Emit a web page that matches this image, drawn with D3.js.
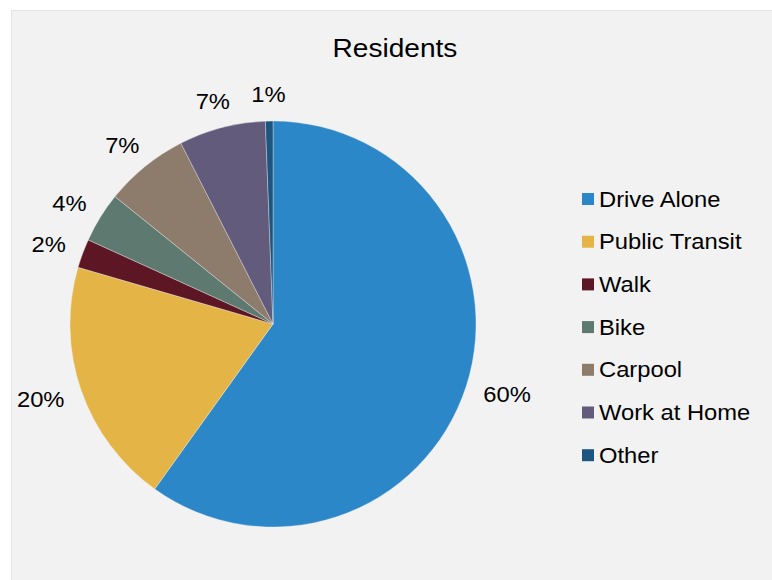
<!DOCTYPE html>
<html>
<head>
<meta charset="utf-8">
<script src="https://cdn.jsdelivr.net/npm/d3@7"></script>
<style>
  body { margin: 0; background: #fff; }
  svg text { font-family: "Liberation Sans", Arial, sans-serif; fill: #000; }
</style>
</head>
<body>
<div id="chart"></div>
<script>
var width = 772;
var height = 580;
var SX = 1.08; // text in the original is a touch wider than Liberation Sans

// data
var categories = ["Drive Alone", "Public Transit", "Walk", "Bike", "Carpool", "Work at Home", "Other"];
var shares = [59.9, 19.6, 2.3, 4.0, 6.7, 6.9, 0.6];
var labels = ["60%", "20%", "2%", "4%", "7%", "7%", "1%"];
var colors = ["#2b87c8", "#e4b446", "#5d1624", "#5e7a70", "#8d7c6c", "#625b7b", "#1e5580"];

var data = categories.map(function (c, i) {
  return { name: c, value: shares[i], label: labels[i], color: colors[i] };
});

var svg = d3.select("#chart")
  .append("svg")
  .attr("width", width)
  .attr("height", height);

// chart area background
svg.append("rect")
  .attr("x", 11.5).attr("y", 10.5)
  .attr("width", width - 11).attr("height", height - 10)
  .attr("fill", "#f2f2f2")
  .attr("stroke", "#e3e3e3");

svg.append("text")
  .attr("transform", "translate(395,57) scale(" + SX + ",1)")
  .attr("text-anchor", "middle")
  .style("font-size", "26px")
  .text("Residents");

var cx = 273, cy = 324, r = 203;

var pie = d3.pie().sort(null).value(function (d) { return d.value; });
var arc = d3.arc().innerRadius(0).outerRadius(r);
var arcs = pie(data);

var g = svg.append("g").attr("transform", "translate(" + cx + "," + cy + ")");

g.selectAll("path")
  .data(arcs)
  .enter()
  .append("path")
  .attr("d", arc)
  .attr("fill", function (d) { return d.data.color; })
  .attr("stroke", "#f2f2f2")
  .attr("stroke-opacity", 0.6)
  .attr("stroke-width", 0.6);

// outside end labels
var gap = 19, fs = 22;
g.selectAll("text.lbl")
  .data(arcs)
  .enter()
  .append("text")
  .attr("class", "lbl")
  .style("font-size", fs + "px")
  .attr("text-anchor", "middle")
  .attr("dominant-baseline", "central")
  .text(function (d) { return d.data.label; })
  .each(function (d) {
    var a = (d.startAngle + d.endAngle) / 2;
    var s = Math.sin(a), c = -Math.cos(a);
    var w = this.getComputedTextLength() * SX;
    var x = s * (r + gap) + s * w / 2;
    var y = c * (r + gap) + c * fs * 0.35;
    d3.select(this).attr("transform", "translate(" + x + "," + y + ") scale(" + SX + ",1)");
  });

// legend
var legend = svg.append("g").attr("transform", "translate(582,199)");
var rowH = 42.7;
var item = legend.selectAll("g")
  .data(data)
  .enter()
  .append("g")
  .attr("transform", function (d, i) { return "translate(0," + (i * rowH) + ")"; });

item.append("rect")
  .attr("x", 0).attr("y", -6)
  .attr("width", 12).attr("height", 12)
  .attr("fill", function (d) { return d.color; });

item.append("text")
  .attr("transform", "translate(17,0) scale(" + SX + ",1)")
  .attr("dominant-baseline", "central")
  .style("font-size", "22px")
  .text(function (d) { return d.name; });
</script>
</body>
</html>
